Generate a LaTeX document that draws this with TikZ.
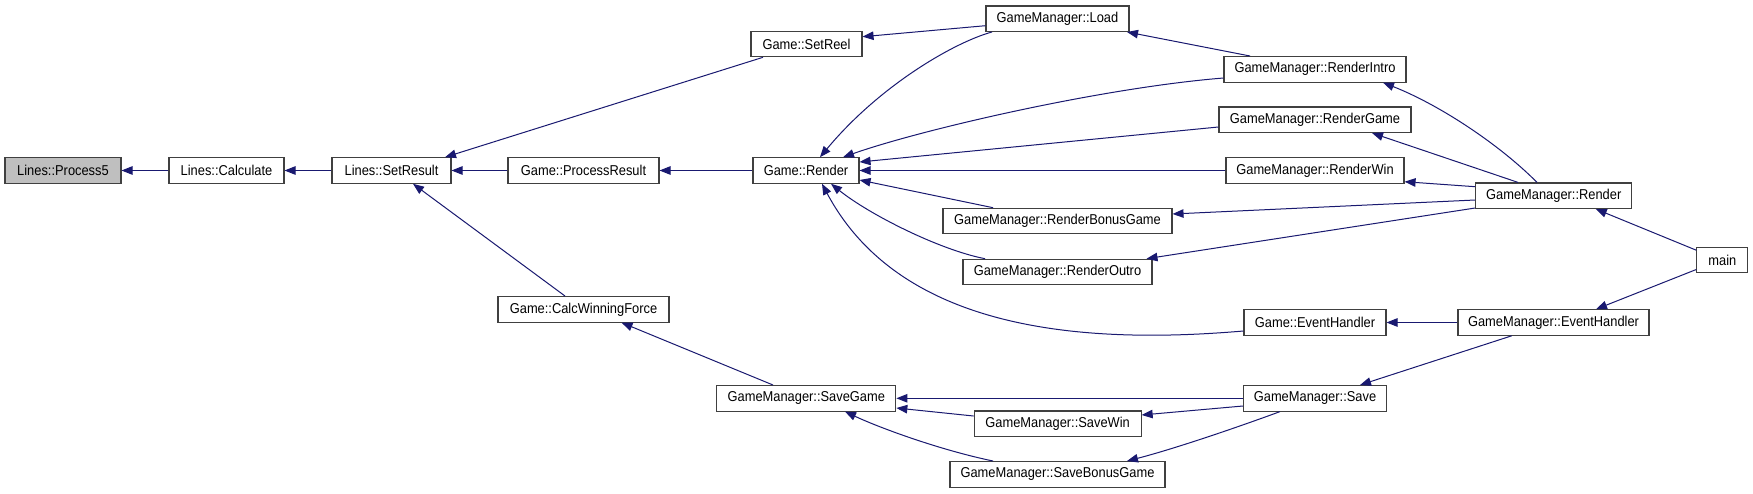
\documentclass[tikz,border=0pt]{standalone}
\usepackage{fontspec}
\setmainfont{Liberation Sans}[FakeStretch=0.9]
\usetikzlibrary{arrows.meta}
\definecolor{edgec}{HTML}{191970}
\definecolor{boxc}{HTML}{404040}
\definecolor{graybox}{HTML}{BFBFBF}
\begin{document}
\begin{tikzpicture}[x=1pt,y=-1pt,
  fn/.style={draw=boxc, line width=1.1pt, fill=white, inner sep=0pt, minimum height=25.5pt,
     font=\fontsize{14.3}{16}\selectfont, text=black},
  cur/.style={fn, fill=graybox},
  call/.style={draw=edgec, line width=1pt, -{Triangle[length=11pt,width=8.5pt]}, color=edgec}]
\useasboundingbox (0,0) rectangle (1753,493);
\fill[white] (0,0) rectangle (1753,493);
% nodes
\node[cur, minimum width=116pt] (p5) at (63,170.5) {Lines::Process5};
\node[fn, minimum width=115pt] (calc) at (226.5,170.5) {Lines::Calculate};
\node[fn, minimum width=119pt] (setres) at (391.5,170.5) {Lines::SetResult};
\node[fn, minimum width=111pt] (setreel) at (806.5,44) {Game::SetReel};
\node[fn, minimum width=143pt] (load) at (1057.5,18.7) {GameManager::Load};
\node[fn, minimum width=151pt] (procres) at (583.5,170.5) {Game::ProcessResult};
\node[fn, minimum width=106pt] (grender) at (806,170.5) {Game::Render};
\node[fn, minimum width=182pt] (rintro) at (1315,69.3) {GameManager::RenderIntro};
\node[fn, minimum width=192pt] (rgame) at (1315,119.7) {GameManager::RenderGame};
\node[fn, minimum width=178pt] (rwin) at (1315,170.5) {GameManager::RenderWin};
\node[fn, minimum width=229pt] (rbonus) at (1057.5,221) {GameManager::RenderBonusGame};
\node[fn, minimum width=189pt] (routro) at (1057.5,272) {GameManager::RenderOutro};
\node[fn, minimum width=156pt] (gmrender) at (1553.7,195.7) {GameManager::Render};
\node[fn, minimum width=51pt] (main) at (1722.3,260) {main};
\node[fn, minimum width=142pt] (geh) at (1315,322.5) {Game::EventHandler};
\node[fn, minimum width=191pt] (gmeh) at (1553.5,322.5) {GameManager::EventHandler};
\node[fn, minimum width=171pt] (cwf) at (583.5,309.3) {Game::CalcWinningForce};
\node[fn, minimum width=179pt] (savegame) at (806.3,398.3) {GameManager::SaveGame};
\node[fn, minimum width=143pt] (save) at (1315,398.3) {GameManager::Save};
\node[fn, minimum width=167pt] (savewin) at (1057.6,423.7) {GameManager::SaveWin};
\node[fn, minimum width=215pt] (sbonus) at (1057.5,474.3) {GameManager::SaveBonusGame};
% edges
\draw[call] (calc.west) -- (p5.east);
\draw[call] (setres.west) -- (calc.east);
\draw[call] ([xshift=-43.5pt]setreel.south) -- ([xshift=53.5pt]setres.north);
\draw[call] (procres.west) -- (setres.east);
\draw[call] ([xshift=-18.5pt]cwf.north) -- ([xshift=21.5pt]setres.south);
\draw[call] (grender.west) -- (procres.east);
\draw[call] ([yshift=-7pt]load.west) -- ([yshift=7.3pt]setreel.east);
\draw[call] ([xshift=-65.5pt]load.south) .. controls (955,42) and (880,85) .. ([xshift=14pt]grender.north);
\draw[call] ([xshift=-65pt]rintro.north) -- ([xshift=69.5pt]load.south);
\draw[call] ([yshift=-8.7pt]rintro.west) .. controls (1100,88) and (920,130) .. ([xshift=37pt]grender.north);
\draw[call] ([yshift=-7.3pt]rgame.west) -- ([yshift=8.5pt]grender.east);
\draw[call] (rwin.west) -- (grender.east);
\draw[call] ([xshift=-64.5pt]rbonus.north) -- ([yshift=-9.5pt]grender.east);
\draw[call] ([xshift=-72.5pt]routro.north) .. controls (940,250) and (870,215) .. ([xshift=25pt]grender.south);
\draw[call] ([yshift=-8.5pt]geh.west) .. controls (1080,345) and (900,330) .. ([xshift=16pt]grender.south);
\draw[call] ([xshift=-16.7pt]gmrender.north) .. controls (1500,145) and (1440,105) .. ([xshift=68pt]rintro.south);
\draw[call] ([xshift=-35.7pt]gmrender.north) -- ([xshift=57pt]rgame.south);
\draw[call] ([yshift=9pt]gmrender.west) -- ([yshift=-11.2pt]rwin.east);
\draw[call] ([yshift=-4.3pt]gmrender.west) -- ([yshift=7pt]rbonus.east);
\draw[call] ([yshift=1pt]gmrender.south west) -- ([xshift=89pt]routro.north);
\draw[call] ([yshift=9.8pt]main.west) -- ([xshift=42pt]gmrender.south);
\draw[call] ([yshift=-9.5pt]main.west) -- ([xshift=42.5pt]gmeh.north);
\draw[call] (gmeh.west) -- (geh.east);
\draw[call] ([xshift=-41.8pt]gmeh.south) -- ([xshift=45pt]save.north);
\draw[call] ([xshift=-33.3pt]savegame.north) -- ([xshift=38pt]cwf.south);
\draw[call] (save.west) -- (savegame.east);
\draw[call] ([yshift=-7.7pt]save.west) -- ([yshift=8.7pt]savewin.east);
\draw[call] ([xshift=-35pt]save.south) .. controls (1230,430) and (1170,450) .. ([xshift=69.5pt]sbonus.north);
\draw[call] ([yshift=7.7pt]savewin.west) -- ([yshift=-9.7pt]savegame.east);
\draw[call] ([xshift=-64.5pt]sbonus.north) .. controls (940,450) and (880,428) .. ([xshift=38.7pt]savegame.south);
\end{tikzpicture}
\end{document}
